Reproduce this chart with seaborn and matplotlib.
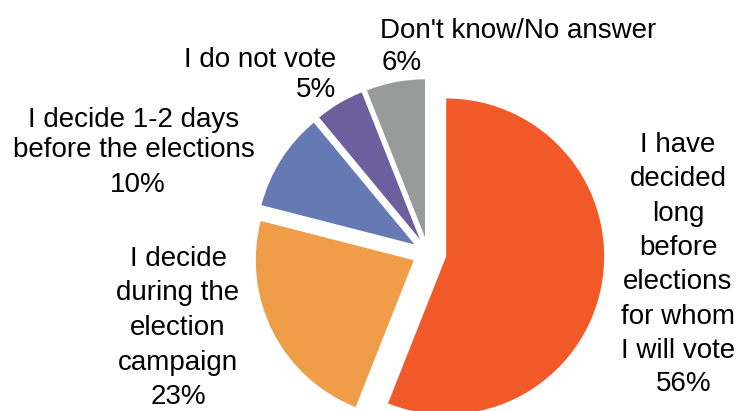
import matplotlib
matplotlib.use("Agg")
import matplotlib.pyplot as plt
import seaborn as sns

# ---- data ----
categories = [
    "I have\ndecided\nlong\nbefore\nelections\nfor whom\nI will vote",
    "I decide\nduring the\nelection\ncampaign",
    "I decide 1-2 days\nbefore the elections",
    "I do not vote",
    "Don't know/No answer",
]
values = [56, 23, 10, 5, 6]
colors = ["#F15A28", "#F09D4A", "#6579B3", "#6C5F9E", "#999A9A"]

# ---- style ----
sns.set_theme(style="white")
plt.rcParams["font.family"] = ["Liberation Sans", "DejaVu Sans"]

W, H = 740, 411
fig = plt.figure(figsize=(W / 100, H / 100), dpi=100)
ax = fig.add_axes([0, 0, 1, 1])

R = 158
cx, cy = 428, 253
explode_frac = [0.117, 0.101, 0.101, 0.101, 0.101]
explode = [f * R for f in explode_frac]

ax.pie(values, colors=sns.color_palette(colors), startangle=90, counterclock=False,
       radius=R, center=(cx, H - cy), explode=explode,
       wedgeprops=dict(linewidth=0), frame=True)
ax.set_xlim(0, W)
ax.set_ylim(0, H)
ax.set_aspect("equal")
ax.axis("off")

# label layout: (x, first baseline, pitch, percent x, percent baseline, ha)
layout = [
    (678, 152, 34.3, 684, 391, "center"),
    (178, 266, 34.5, 178, 404, "center"),
    (134, 127, 30.0, 138, 192, "center"),
    (336, 67, 30.0, 336, 97, "right"),
    (518, 38, 32.0, 402, 70, "center"),
]

for name, v, (x, y0, pitch, px, py, ha) in zip(categories, values, layout):
    for i, line in enumerate(name.split("\n")):
        ax.text(x, H - (y0 + i * pitch), line, ha=ha, va="baseline",
                fontsize=20, color="black")
    ax.text(px, H - py, f"{v}%", ha=ha, va="baseline", fontsize=20, color="black")

fig.savefig("out.png", dpi=100)
